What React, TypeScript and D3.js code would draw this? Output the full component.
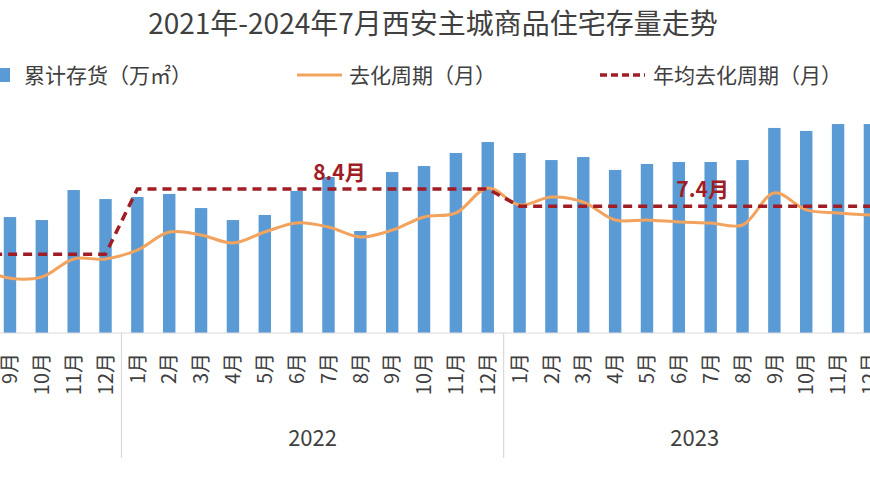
import React, { useEffect } from "react";
import * as d3 from "d3";

const title = "2021年-2024年7月西安主城商品住宅存量走势";

const categories = [
  "2021-8", "2021-9", "2021-10", "2021-11", "2021-12",
  "2022-1", "2022-2", "2022-3", "2022-4", "2022-5", "2022-6",
  "2022-7", "2022-8", "2022-9", "2022-10", "2022-11", "2022-12",
  "2023-1", "2023-2", "2023-3", "2023-4", "2023-5", "2023-6",
  "2023-7", "2023-8", "2023-9", "2023-10", "2023-11", "2023-12",
];

// 累计存货（万㎡）
const inventory = [
  750, 773, 753, 953, 893,
  907, 927, 833, 753, 787, 947, 1040, 680, 1073, 1113, 1200, 1273,
  1200, 1153, 1173, 1087, 1127, 1140, 1140, 1153, 1367, 1347, 1393, 1393,
];

// 去化周期（月）
const cycle = [
  3.8, 3.2, 3.27, 4.32, 4.32,
  4.84, 5.89, 5.72, 5.25, 5.89, 6.42, 6.18, 5.6, 6.0, 6.77, 7.0, 8.46,
  7.47, 7.93, 7.64, 6.59, 6.59, 6.48, 6.42, 6.3, 8.17, 7.18, 7.0, 6.88,
];

// 年均去化周期（月）
const avgCycle = [
  4.6, 4.6, 4.6, 4.6, 4.6,
  8.4, 8.4, 8.4, 8.4, 8.4, 8.4, 8.4, 8.4, 8.4, 8.4, 8.4, 8.4,
  7.4, 7.4, 7.4, 7.4, 7.4, 7.4, 7.4, 7.4, 7.4, 7.4, 7.4, 7.4,
];

const yearGroups = ["2022", "2023"];
const avgLabelTexts = ["8.4月", "7.4月"];
const avgLabelAt = ["2022-7", "2023-7"];
const avgLabelValues = [8.4, 7.4];
const legendLabels = ["累计存货（万㎡）", "去化周期（月）", "年均去化周期（月）"];

const W = 870;
const H = 492;
const FONT = "'Noto Sans CJK SC', 'Noto Sans', sans-serif";
const BAR = "#5b9bd5";
const ORANGE = "#f2a35e";
const RED = "#a01d26";
const TEXT = "#404040";
const GRID = "#d9d9d9";

export default function App() {
  useEffect(() => {
    document.body.style.margin = "0";
  }, []);

  const step = 31.85;
  const x0 = -37.8;
  const x = d3
    .scaleBand<string>()
    .domain(categories)
    .range([x0, x0 + categories.length * step])
    .padding(0);
  const bw = x.bandwidth() * 0.39;
  const cx = (c: string) => (x(c) as number) + x.bandwidth() / 2;

  const baseY = 333;
  const yBar = d3.scaleLinear().domain([0, 1600]).range([baseY, 93]);
  const yLine = d3.scaleLinear().domain([0, 14]).range([baseY, 93]);

  const smooth = d3
    .line<number>()
    .x((_, i) => cx(categories[i]))
    .y((d) => yLine(d))
    .curve(d3.curveCatmullRom.alpha(0.5));
  const straight = d3
    .line<number>()
    .x((_, i) => cx(categories[i]))
    .y((d) => yLine(d));

  const groups = yearGroups.map((yr) => {
    const cats = categories.filter((c) => c.startsWith(yr + "-"));
    const start = x(cats[0]) as number;
    const end = (x(cats[cats.length - 1]) as number) + x.bandwidth();
    return { yr, start, end };
  });
  const separators = Array.from(
    new Set(groups.flatMap((g) => [g.start, g.end]))
  );

  return (
    <svg
      width={W}
      height={H}
      viewBox={`0 0 ${W} ${H}`}
      style={{ display: "block", background: "#fff" }}
      fontFamily={FONT}
    >
      <defs>
        <clipPath id="plotclip">
          <rect x={0} y={0} width={W} height={H} />
        </clipPath>
      </defs>

      <text x={433} y={34} textAnchor="middle" fontSize={28} fill={TEXT}>
        {title}
      </text>

      {/* legend */}
      <g fontSize={21} fill={TEXT}>
        <rect x={-3} y={68} width={13} height={14} fill={BAR} />
        <text x={24} y={83}>{legendLabels[0]}</text>
        <line x1={297} x2={342} y1={75} y2={75} stroke={ORANGE} strokeWidth={3} />
        <text x={349} y={83}>{legendLabels[1]}</text>
        <line
          x1={600}
          x2={645}
          y1={75}
          y2={75}
          stroke={RED}
          strokeWidth={3.5}
          strokeDasharray="7 4"
        />
        <text x={653} y={83}>{legendLabels[2]}</text>
      </g>

      <g clipPath="url(#plotclip)">
        {/* bars */}
        {categories.map((c, i) => (
          <rect
            key={c}
            x={cx(c) - bw / 2}
            y={yBar(inventory[i])}
            width={bw}
            height={baseY - yBar(inventory[i])}
            fill={BAR}
          />
        ))}

        {/* axis line */}
        <line x1={0} x2={W} y1={baseY} y2={baseY} stroke={GRID} strokeWidth={1.2} />

        {/* year separators */}
        {separators.map((sx, i) => (
          <line key={i} x1={sx} x2={sx} y1={baseY} y2={458} stroke={GRID} strokeWidth={1.2} />
        ))}

        {/* cycle line */}
        <path d={smooth(cycle) || ""} fill="none" stroke={ORANGE} strokeWidth={3} />

        {/* average dashed */}
        <path
          d={straight(avgCycle) || ""}
          fill="none"
          stroke={RED}
          strokeWidth={3.5}
          strokeDasharray="9 6"
        />

        {/* month labels (only those that fall inside the picture) */}
        {categories
          .filter((c) => cx(c) > 0)
          .map((c) => (
            <text
              key={"l" + c}
              transform={`translate(${cx(c)},353) rotate(-90)`}
              textAnchor="end"
              dy="0.36em"
              fontSize={20}
              fill={TEXT}
            >
              {c.split("-")[1] + "月"}
            </text>
          ))}

        {/* year labels */}
        {groups.map((g) => (
          <text
            key={g.yr}
            x={(g.start + g.end) / 2}
            y={446}
            textAnchor="middle"
            fontSize={22}
            fill={TEXT}
          >
            {g.yr}
          </text>
        ))}

        {/* average labels */}
        <text
          x={cx(avgLabelAt[0]) + 11}
          y={yLine(avgLabelValues[0]) - 9}
          textAnchor="middle"
          fontSize={21}
          fontWeight="bold"
          fill={RED}
        >
          {avgLabelTexts[0]}
        </text>
        <text
          x={cx(avgLabelAt[1]) - 8}
          y={yLine(avgLabelValues[1]) - 9}
          textAnchor="middle"
          fontSize={21}
          fontWeight="bold"
          fill={RED}
        >
          {avgLabelTexts[1]}
        </text>
      </g>
    </svg>
  );
}
